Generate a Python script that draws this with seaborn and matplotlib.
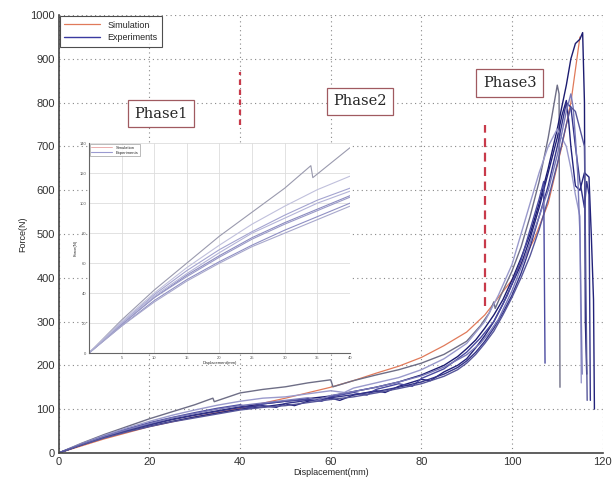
import matplotlib
matplotlib.use('Agg')
import matplotlib.pyplot as plt
import seaborn as sns
import pandas as pd

# simulation curve
sim_x = [0, 10, 20, 30, 40, 50, 60, 65, 70, 75, 80, 85, 90, 94, 97, 100, 103, 105, 108, 111, 113, 115]
sim_y = [0, 32, 60, 82, 102, 125, 150, 165, 182, 198, 218, 245, 276, 315, 355, 395, 450, 490, 570, 700, 800, 950]

# experiment curves (8 specimens)
exp_a_x = [0, 5, 10, 15, 20, 25, 30, 34, 34.3, 40, 45, 50, 55, 60, 60.5, 65, 70, 75, 80, 85, 90, 93, 95, 96, 96.3, 98, 100, 102, 104, 106, 108, 110, 110.4, 110.6]
exp_a_y = [0, 22, 42, 60, 78, 94, 110, 125, 117, 137, 145, 151, 160, 167, 151, 165, 178, 190, 205, 225, 255, 290, 320, 345, 330, 370, 415, 470, 540, 620, 720, 840, 820, 150]

exp_b_x = [0, 5, 10, 15, 20, 25, 30, 35, 40, 45, 50, 55, 60, 65, 70, 75, 80, 85, 88, 90, 92, 94, 96, 98, 100, 102, 104, 106, 108, 110, 112, 113, 114, 115, 115.6, 115.8, 116, 116.2, 116.5]
exp_b_y = [0, 19, 37, 52, 65, 77, 87, 96, 105, 112, 118, 124, 130, 140, 150, 162, 178, 200, 220, 238, 258, 285, 315, 350, 395, 445, 500, 570, 650, 740, 840, 900, 935, 945, 960, 880, 800, 300, 180]

exp_c_x = [0, 5, 10, 15, 20, 25, 30, 35, 40, 45, 50, 52, 55, 60, 62, 65, 70, 72, 75, 80, 82, 85, 88, 90, 92, 94, 96, 98, 100, 102, 104, 106, 108, 110, 111, 112, 112.5, 113, 114, 115, 116, 117, 117.5, 118, 118.2]
exp_c_y = [0, 18, 35, 49, 61, 72, 82, 91, 100, 105, 112, 108, 118, 125, 120, 132, 142, 138, 152, 168, 165, 185, 200, 215, 240, 268, 300, 340, 385, 430, 490, 560, 640, 720, 770, 805, 760, 700, 610, 600, 640, 630, 500, 350, 100]

exp_d_x = [0, 5, 10, 15, 20, 25, 30, 35, 40, 42, 45, 50, 55, 58, 60, 65, 68, 70, 75, 78, 80, 85, 90, 93, 96, 99, 102, 104, 106, 107, 107.3]
exp_d_y = [0, 20, 39, 55, 69, 81, 92, 102, 110, 103, 112, 118, 122, 118, 128, 138, 132, 145, 158, 152, 170, 192, 230, 262, 300, 360, 440, 510, 580, 620, 205]

exp_e_x = [0, 5, 10, 15, 20, 25, 30, 35, 40, 45, 50, 55, 60, 63, 65, 70, 75, 80, 85, 90, 94, 97, 100, 102, 104, 106, 108, 110, 112, 113, 114, 115, 115.3]
exp_e_y = [0, 21, 40, 57, 72, 86, 98, 109, 118, 125, 128, 135, 142, 138, 148, 160, 172, 190, 215, 250, 300, 360, 430, 500, 570, 640, 700, 740, 700, 650, 590, 540, 160]

exp_f_x = [0, 5, 10, 15, 20, 25, 30, 35, 40, 45, 48, 50, 55, 60, 65, 70, 75, 80, 85, 88, 90, 92, 94, 96, 98, 100, 102, 104, 106, 108, 110, 111, 112, 113, 114, 115, 116, 116.5, 117, 117.3]
exp_f_y = [0, 19, 37, 51, 64, 76, 86, 95, 104, 108, 104, 113, 120, 126, 133, 140, 150, 162, 180, 195, 210, 230, 255, 285, 320, 360, 410, 470, 540, 610, 700, 750, 800, 790, 700, 620, 560, 620, 590, 120]

exp_g_x = [0, 5, 10, 15, 20, 25, 30, 35, 40, 50, 55, 57, 60, 65, 70, 75, 80, 85, 90, 93, 95, 97, 100, 103, 106, 108, 110, 112, 113, 113.5, 114, 114.5, 115, 115.5]
exp_g_y = [0, 20, 38, 53, 67, 80, 90, 100, 108, 120, 126, 120, 131, 140, 150, 162, 176, 196, 224, 250, 275, 305, 370, 450, 540, 600, 680, 780, 820, 790, 720, 640, 500, 180]

exp_h_x = [0, 5, 10, 15, 20, 25, 30, 35, 40, 45, 50, 55, 60, 65, 70, 75, 80, 85, 88, 90, 92, 94, 96, 98, 100, 102, 104, 106, 108, 110, 112, 113, 114, 115, 116, 116.3, 116.6]
exp_h_y = [0, 18, 34, 48, 60, 71, 80, 89, 98, 104, 108, 115, 122, 128, 137, 147, 158, 175, 190, 205, 225, 250, 278, 315, 355, 400, 450, 510, 580, 660, 750, 790, 780, 740, 700, 400, 120]

exp_curves = [(exp_a_x, exp_a_y), (exp_b_x, exp_b_y), (exp_c_x, exp_c_y), (exp_d_x, exp_d_y),
              (exp_e_x, exp_e_y), (exp_f_x, exp_f_y), (exp_g_x, exp_g_y), (exp_h_x, exp_h_y)]
exp_colors = ['#6e6e86', '#1c1c70', '#22227a', '#4a4aa0', '#9a9acc', '#34348a', '#7878b8', '#56569a']
inset_colors = ['#9a9aae', '#8c8cc0', '#9090c4', '#a4a4d0', '#c0c0dc', '#9a9ac8', '#b4b4d8', '#a8a8cc']

phase_labels = ['Phase1', 'Phase2', 'Phase3']
phase_pos = [(22.5, 775), (66.5, 803), (99.5, 845)]

sns.set_style('white')
plt.rcParams['font.family'] = ['Liberation Sans', 'DejaVu Sans']

fig = plt.figure(figsize=(6.13, 4.87), dpi=100)
fig.patch.set_facecolor('white')
ax = fig.add_axes([0.096, 0.070, 0.887, 0.899])

sns.lineplot(x=sim_x, y=sim_y, ax=ax, color='#e07a5a', linewidth=0.9, sort=False,
             estimator=None, label='Simulation')
for i, ((xs, ys), c) in enumerate(zip(exp_curves, exp_colors)):
    sns.lineplot(x=xs, y=ys, ax=ax, color=c, linewidth=1.0, sort=False, estimator=None,
                 label='Experiments' if i == 0 else None)

# phase boundary markers
ax.plot([40, 40], [750, 870], color='#c83a4a', linestyle=(0, (2.5, 2)), linewidth=1.6)
ax.plot([94, 94], [335, 750], color='#c83a4a', linestyle=(0, (4, 2.5)), linewidth=1.6)

for lab, (px, py) in zip(phase_labels, phase_pos):
    ax.text(px, py, lab, family='DejaVu Serif', fontsize=10.5, ha='center', va='center',
            bbox=dict(boxstyle='square,pad=0.45', fc='white', ec='#a05a60', lw=0.9))

ax.set_xlim(0, 120)
ax.set_ylim(0, 1000)
ax.set_xticks(range(0, 121, 20))
ax.set_yticks(range(0, 1001, 100))
ax.grid(True, linestyle=(0, (1, 3)), color='#888888', linewidth=0.8)
ax.tick_params(direction='in', length=4, labelsize=8, colors='#333333', pad=3)
for s in ['top', 'right']:
    ax.spines[s].set_visible(False)
for s in ['left', 'bottom']:
    ax.spines[s].set_color('#444444')
    ax.spines[s].set_linewidth(1.2)
ax.set_xlabel('Displacement(mm)', fontsize=6.5, labelpad=1)
ax.set_ylabel('Force(N)', fontsize=6.5, labelpad=2)

leg = ax.legend(loc='upper left', fontsize=6.5, frameon=True, fancybox=False,
                borderaxespad=0.1, handlelength=4, labelspacing=0.4, borderpad=0.5)
leg.get_frame().set_edgecolor('#222222')
leg.get_frame().set_linewidth(0.8)
leg.legend_handles[1].set_color('#3a3aa0')

# inset: first 40 mm
ins = fig.add_axes([0.145, 0.275, 0.426, 0.431])
ins.set_facecolor('white')
sns.lineplot(x=[0], y=[0], ax=ins, color='#e8a0a0', linewidth=0.6, label='Simulation')
for i, ((xs, ys), c) in enumerate(zip(exp_curves, inset_colors)):
    d = pd.DataFrame({'x': xs, 'y': ys})
    d = d[d['x'] <= 40.5]
    sns.lineplot(data=d, x='x', y='y', ax=ins, color=c, linewidth=0.8, sort=False,
                 estimator=None, label='Experiments' if i == 0 else None)
ins.set_xlim(0, 40)
ins.set_ylim(0, 140)
ins.set_xticks(range(5, 41, 5))
ins.set_yticks(range(0, 141, 20))
ins.grid(True, color='#dddddd', linewidth=0.6)
ins.tick_params(direction='in', length=2, labelsize=3, colors='#555555', pad=2)
for s in ['top', 'right']:
    ins.spines[s].set_visible(False)
for s in ['left', 'bottom']:
    ins.spines[s].set_color('#666666')
    ins.spines[s].set_linewidth(0.8)
ins.set_xlabel('Displacement(mm)', fontsize=3, labelpad=1)
ins.set_ylabel('Force(N)', fontsize=3, labelpad=1)
il = ins.legend(loc='upper left', fontsize=3, frameon=True, fancybox=False,
                borderaxespad=0.2, handlelength=5, labelspacing=0.2)
il.get_frame().set_edgecolor('#888888')
il.get_frame().set_linewidth(0.5)
il.legend_handles[1].set_color('#9a9ad0')

fig.savefig('out.png', dpi=100)
